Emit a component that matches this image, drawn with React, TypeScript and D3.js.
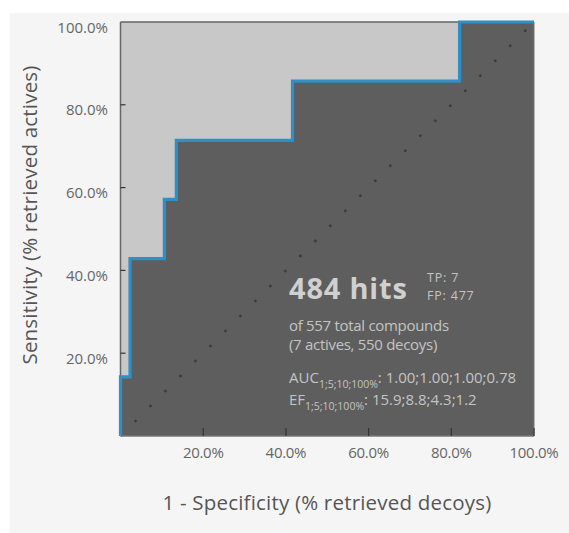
import React from "react";
import * as d3 from "d3";

// ROC step points (fraction of decoys retrieved, fraction of actives retrieved)
const rocFpr = [0, 0, 0.023, 0.106, 0.135, 0.416, 0.82, 1];
const rocTpr = [0, 1 / 7, 3 / 7, 4 / 7, 5 / 7, 6 / 7, 1, 1];
const tickValues = [0.2, 0.4, 0.6, 0.8, 1.0];
const xTitle = "1 - Specificity (% retrieved decoys)";
const yTitle = "Sensitivity (% retrieved actives)";
const hitsText = "484 hits";
const tpText = "TP: 7";
const fpText = "FP: 477";
const totalText = "of 557 total compounds";
const splitText = "(7 actives, 550 decoys)";
const aucSub = "1;5;10;100%";
const aucValues = "1.00;1.00;1.00;0.78";
const efValues = "15.9;8.8;4.3;1.2";

const W = 569;
const H = 533;
const L = 120.5;
const R = 534;
const T = 22;
const B = 436;
const FONT = "'Open Sans', 'Noto Sans', sans-serif";

export default function App() {
  const x = d3.scaleLinear().domain([0, 1]).range([L, R]);
  const y = d3.scaleLinear().domain([0, 1]).range([B, T]);
  const pts: [number, number][] = rocFpr.map((f, i) => [f, rocTpr[i]]);
  const area = d3
    .area<[number, number]>()
    .x((d) => x(d[0]))
    .y0(y(0))
    .y1((d) => y(d[1]))
    .curve(d3.curveStepAfter);
  const line = d3
    .line<[number, number]>()
    .x((d) => x(d[0]))
    .y((d) => y(d[1]))
    .curve(d3.curveStepAfter);
  const fmt = d3.format(".1%");
  const step = 15 * Math.SQRT2;

  return (
    <svg
      width={W}
      height={H}
      style={{ position: "absolute", left: 0, top: 0, display: "block" }}
      fontFamily={FONT}
    >
      <rect x={0} y={0} width={W} height={H} fill="#ffffff" />
      <rect x={10} y={13} width={W - 10} height={H - 13} fill="#f5f5f5" />
      <rect x={L} y={T} width={R - L} height={B - T} fill="#c8c8c8" />
      <path d={area(pts) || ""} fill="#5e5e5e" />
      <line
        x1={x(0)}
        y1={y(0)}
        x2={x(1)}
        y2={y(1)}
        stroke="#3c3c3c"
        strokeWidth={2.5}
        strokeDasharray={`2.5 ${step - 2.5}`}
        strokeDashoffset={-(step - 1.25)}
      />
      {/* frame */}
      <line x1={L} y1={T} x2={R} y2={T} stroke="#666" strokeWidth={1.5} />
      <line x1={L} y1={T} x2={L} y2={B} stroke="#666" strokeWidth={1.5} />
      <line x1={L} y1={B} x2={R} y2={B} stroke="#777" strokeWidth={1.5} />
      <line x1={R} y1={T} x2={R} y2={B} stroke="#777" strokeWidth={1} />
      {/* ticks */}
      {tickValues.map((t) => (
        <g key={"xt" + t}>
          <line x1={x(t)} y1={B} x2={x(t)} y2={B - 8} stroke="#333" strokeWidth={1.2} />
          <text x={x(t)} y={458} textAnchor="middle" fontSize={15} fill="#666" letterSpacing={-0.3}>
            {fmt(t)}
          </text>
        </g>
      ))}
      {tickValues.map((t) => (
        <g key={"yt" + t}>
          {t < 1 && <line x1={L} y1={y(t)} x2={L + 5} y2={y(t)} stroke="#333" strokeWidth={1.2} />}
          <text x={108} y={y(t) + 10.5} textAnchor="end" fontSize={15} fill="#666" letterSpacing={0}>
            {fmt(t)}
          </text>
        </g>
      ))}
      <path d={line(pts) || ""} fill="none" stroke="#2f8fc6" strokeWidth={3.2} />
      {/* titles */}
      <text x={327} y={510} textAnchor="middle" fontSize={20.5} fill="#555" letterSpacing={0.2}>
        {xTitle}
      </text>
      <text
        transform={`translate(37,215) rotate(-90)`}
        textAnchor="middle"
        fontSize={20.5}
        fill="#555"
        letterSpacing={0.2}
      >
        {yTitle}
      </text>
      {/* annotation */}
      <g fill="#c4c4c4">
        <text x={289} y={299} fontSize={29} fontWeight="bold" fill="#d0d0d0" letterSpacing={0.8}>
          {hitsText}
        </text>
        <text x={427} y={282} fontSize={12.5} letterSpacing={0.8}>
          {tpText}
        </text>
        <text x={427} y={300} fontSize={12.5} letterSpacing={0.8}>
          {fpText}
        </text>
        <text x={289} y={331} fontSize={15} letterSpacing={-0.3}>
          {totalText}
        </text>
        <text x={289} y={350} fontSize={15} letterSpacing={-0.3}>
          {splitText}
        </text>
        <text x={289} y={383} fontSize={15} letterSpacing={0}>
          AUC
          <tspan fontSize={10.5} dy={5}>{aucSub}</tspan>
          <tspan dy={-5}>{": " + aucValues}</tspan>
        </text>
        <text x={289} y={405} fontSize={15} letterSpacing={0}>
          EF
          <tspan fontSize={10.5} dy={5}>{aucSub}</tspan>
          <tspan dy={-5}>{": " + efValues}</tspan>
        </text>
      </g>
    </svg>
  );
}
